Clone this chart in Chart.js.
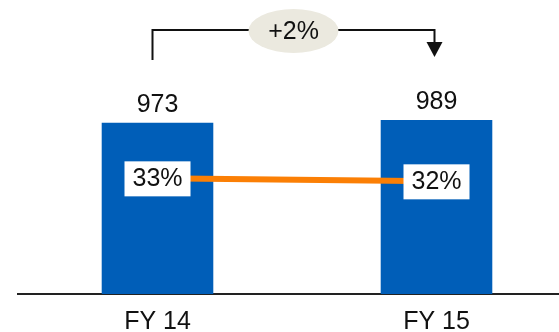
<!DOCTYPE html>
<html>
<head>
<meta charset="utf-8">
<script src="https://cdn.jsdelivr.net/npm/chart.js@4"></script>
<style>
  html, body { margin: 0; padding: 0; background: #fff; overflow: hidden; }
  canvas { display: block; }
</style>
</head>
<body>
<canvas id="chart" width="576" height="350"></canvas>
<script>
// Data
const years = ['FY 14', 'FY 15'];
const revenue = [973, 989];
const margin = [33, 32];

const FONT = '"Liberation Sans", Arial, sans-serif';

// growth between the two bars, shown in the bubble
const growth = Math.round((revenue[1] / revenue[0] - 1) * 100);
const growthText = (growth >= 0 ? '+' : '') + growth + '%';

// labels above bars, boxes on the line, bracket with arrow on top
const overlay = {
  id: 'overlay',
  afterDatasetsDraw(chart) {
    const ctx = chart.ctx;
    const bars = chart.getDatasetMeta(0).data;
    const pts = chart.getDatasetMeta(1).data;
    ctx.save();

    // value labels
    ctx.fillStyle = '#111';
    ctx.font = '25px ' + FONT;
    ctx.textAlign = 'center';
    ctx.textBaseline = 'alphabetic';
    bars.forEach((b, i) => ctx.fillText(revenue[i], b.x, b.y - 11));

    // percentage boxes
    ctx.textBaseline = 'middle';
    pts.forEach((p, i) => {
      ctx.fillStyle = '#fff';
      ctx.fillRect(p.x - 33, p.y - 17, 66, 35);
      ctx.fillStyle = '#111';
      ctx.fillText(margin[i] + '%', p.x, p.y + 1);
    });

    // bracket
    const x0 = bars[0].x - 5, x1 = bars[1].x - 2, yTop = 30;
    ctx.strokeStyle = '#111';
    ctx.lineWidth = 2;
    ctx.beginPath();
    ctx.moveTo(x0, 60);
    ctx.lineTo(x0, yTop);
    ctx.lineTo(x1, yTop);
    ctx.lineTo(x1, 43);
    ctx.stroke();
    ctx.fillStyle = '#111';
    ctx.beginPath();
    ctx.moveTo(x1 - 8, 42);
    ctx.lineTo(x1 + 8, 42);
    ctx.lineTo(x1, 57);
    ctx.closePath();
    ctx.fill();

    // growth bubble
    const cx = (x0 + x1) / 2;
    ctx.fillStyle = '#ebe9df';
    ctx.beginPath();
    ctx.ellipse(cx, 31, 45, 22, 0, 0, Math.PI * 2);
    ctx.fill();
    ctx.fillStyle = '#111';
    ctx.fillText(growthText, cx, 32);

    ctx.restore();
  }
};

new Chart(document.getElementById('chart'), {
  data: {
    labels: years,
    datasets: [
      {
        type: 'bar',
        data: revenue,
        backgroundColor: '#005eb8',
        barPercentage: 0.4,
        categoryPercentage: 1,
        yAxisID: 'y',
        order: 1
      },
      {
        type: 'line',
        data: margin,
        borderColor: '#fb7f05',
        borderWidth: 6,
        pointRadius: 0,
        tension: 0,
        yAxisID: 'y2',
        order: 0
      }
    ]
  },
  options: {
    responsive: false,
    animation: false,
    layout: { padding: { top: 60, left: 18, right: 0, bottom: 0 } },
    plugins: { legend: { display: false }, tooltip: { enabled: false } },
    scales: {
      x: {
        grid: { display: false, drawTicks: false },
        border: { display: true, color: '#222', width: 2 },
        ticks: { color: '#111', font: { family: FONT, size: 25 }, padding: 13 }
      },
      y: { display: false, min: 0, max: 1330 },
      y2: { display: false, min: -5.7, max: 72.6 }
    }
  },
  plugins: [overlay]
});
</script>
</body>
</html>
